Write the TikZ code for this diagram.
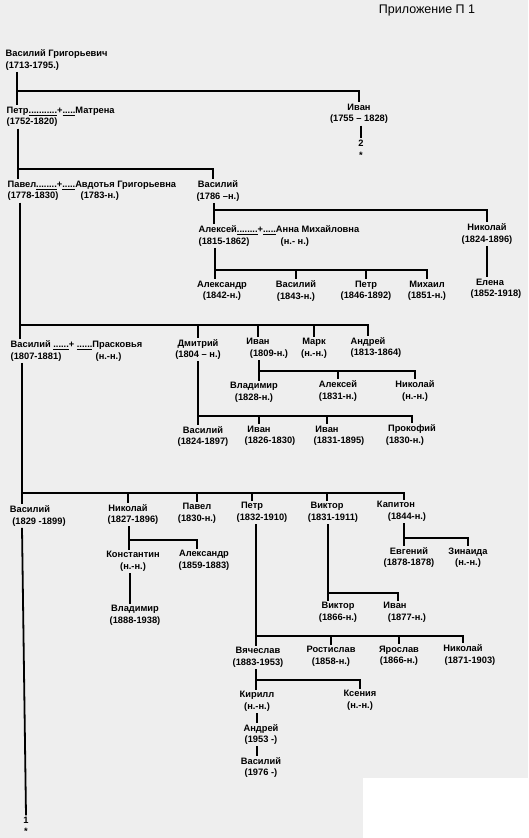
\documentclass[tikz,border=0pt]{standalone}
\usepackage{fontspec}
\setmainfont{Liberation Sans}
\usepackage{tikz}
\usetikzlibrary{calc}
\definecolor{scanbg}{RGB}{238,238,238}
\newcommand{\DR}[2]{\hspace*{#1}#2}
\newcommand{\DL}[2]{#2\hspace*{#1}}

\begin{document}
\begin{tikzpicture}[x=1pt,y=-1pt,
  pers/.style={font=\bfseries\fontsize{9.3}{11.5}\selectfont,align=center,inner sep=1.5pt},
  pair/.style={pers,align=left,anchor=west},
  tie/.style={line width=1.4pt},
  trunk/.style={line width=1.8pt}]

\fill[scanbg] (0,0) rectangle (528,838);
\fill[white] (363,778) rectangle (528,838);
\useasboundingbox (0,0) rectangle (528,838);

\node[font=\fontsize{12.5}{14}\selectfont] (title) at (427,10) {Приложение П 1};

%─── Generation 1 ───────────────────────────────────────────────────────────
\node[pair] (vg) at (4,60) {Василий Григорьевич\\(1713-1795.)};
\node[pair] (petr) at (5,117)
  {Петр\underline{...........}+\underline{.....}Матрена\\(1752-1820)};
\node[pers] (ivanA) at (359,114) {Иван\\(1755 – 1828)};
\node[pers] (n2) at (361,149) {2\\*};
\coordinate (jA) at (17,91);
\draw[trunk] (vg.south -| jA) -- (petr.north -| jA);
\draw[tie] (jA) -| (ivanA.north);
\draw[tie] (ivanA.south -| n2) -- (n2.north);

%─── Generation 2 ───────────────────────────────────────────────────────────
\node[pair] (pavel) at (6,191)
  {Павел\underline{........}+\underline{.....}Авдотья Григорьевна\\
   \makebox[73pt][l]{(1778-1830)}(1783-н.)};
\node[pers] (vasB) at (218,191) {Василий\\(1786 –н.)};
\coordinate (jB) at (18,169);
\draw[trunk] (petr.south -| jB) -- (pavel.north -| jB);
\draw[tie] (jB) -| (vasB.north -| 213,0);
\coordinate (jC) at (214,210);
\draw[tie] (vasB.south -| jC) -- (jC);

%─── Descendants of Vasily (1786) ───────────────────────────────────────────
\node[pair] (aleksey) at (197,236)
  {Алексей\underline{........}+\underline{.....}Анна Михайловна\\
   \makebox[82pt][l]{(1815-1862)}(н.- н.)};
\node[pers] (nikA) at (487,234) {Николай\\(1824-1896)};
\node[pers] (elena) at (490,289) {Елена\\\DR{12pt}{(1852-1918)}};
\draw[tie] (jC) -- (aleksey.north -| jC);
\draw[tie] (jC) -| (nikA.north);
\draw[tie] (nikA.south) -- (nikA.south |- elena.north);

\node[pers] (aleksA) at (222,291) {Александр\\(1842-н.)};
\node[pers] (vasC) at (296,291) {Василий\\(1843-н.)};
\node[pers] (petrB) at (366,291) {Петр\\(1846-1892)};
\node[pers] (mikh) at (427,291) {Михаил\\(1851-н.)};
\coordinate (jD) at (215,270);
\draw[tie] (aleksey.south -| jD) -- (aleksA.north -| jD);
\draw[tie] (jD) -| (mikh.north);
\foreach \c in {vasC,petrB}
  \draw[tie] (jD -| \c) -- (\c.north);

%─── Generation 3 ───────────────────────────────────────────────────────────
\node[pair] (vasP) at (9,351)
  {Василий \underline{......}+ \underline{......}Прасковья\\
   \makebox[85pt][l]{(1807-1881)}(н.-н.)};
\node[pers] (dmit) at (198,349.5) {Дмитрий\\(1804 – н.)};
\node[pers] (ivanB) at (258,348.5) {Иван\\\DR{22pt}{(1809-н.)}};
\node[pers] (mark) at (314,348.5) {Марк\\(н.-н.)};
\node[pers] (andrA) at (368,347.5) {Андрей\\\DR{16pt}{(1813-1864)}};
\coordinate (jE) at (20,325);
\draw[trunk] (pavel.south -| jE) -- (vasP.north -| jE);
\draw[tie] (jE) -| (andrA.north);
\foreach \c in {dmit,ivanB,mark}
  \draw[tie] (jE -| \c) -- (\c.north);

%─── Descendants of Ivan (1809) ─────────────────────────────────────────────
\node[pers] (vladA) at (254,392.5) {Владимир\\(1828-н.)};
\node[pers] (aleksB) at (338,391) {Алексей\\(1831-н.)};
\node[pers] (nikB) at (415,391) {Николай\\(н.-н.)};
\coordinate (jF) at (259,371);
\draw[tie] (ivanB.south -| jF) -- (vladA.north -| jF);
\draw[tie] (jF) -| (nikB.north);
\draw[tie] (jF -| aleksB) -- (aleksB.north);

%─── Descendants of Dmitry (1804) ───────────────────────────────────────────
\node[pers] (vasD) at (203,436.5) {Василий\\(1824-1897)};
\node[pers] (ivanC) at (259,436) {Иван\\\DR{22pt}{(1826-1830)}};
\node[pers] (ivanD) at (327,436) {Иван\\\DR{24pt}{(1831-1895)}};
\node[pers] (prok) at (412,435) {Прокофий\\\DL{14pt}{(1830-н.)}};
\coordinate (jG) at (198,416);
\draw[tie] (dmit.south -| jG) -- (vasD.north -| jG);
\draw[tie] (jG) -| (prok.north);
\foreach \c in {ivanC,ivanD}
  \draw[tie] (jG -| \c) -- (\c.north);

%─── Generation 4 ───────────────────────────────────────────────────────────
\node[pers] (vasE) at (30,516) {Василий\\\DR{18pt}{(1829 -1899)}};
\node[pers] (nikC) at (128,514.5) {Николай\\\DR{10pt}{(1827-1896)}};
\node[pers] (pavelB) at (197,513.5) {Павел\\(1830-н.)};
\node[pers] (petrC) at (252,512.5) {Петр\\\DR{20pt}{(1832-1910)}};
\node[pers] (vikA) at (327,512.5) {Виктор\\\DR{12pt}{(1831-1911)}};
\node[pers] (kap) at (396,511.5) {Капитон\\\DR{22pt}{(1844-н.)}};
\coordinate (jH) at (22,493);
\draw[trunk] (vasP.south -| jH) -- (vasE.north -| jH);
\draw[tie] (jH) -| (kap.north -| 404,0);
\foreach \c in {nikC,pavelB,petrC,vikA}
  \draw[tie] (jH -| \c) -- (\c.north);

%─── Descendants of Nikolay (1827) ──────────────────────────────────────────
\node[pers] (konst) at (133,561.5) {Константин\\(н.-н.)};
\node[pers] (aleksC) at (204,560.5) {Александр\\(1859-1883)};
\node[pers] (vladB) at (135,615.5) {Владимир\\(1888-1938)};
\coordinate (jI) at (129,540);
\draw[tie] (nikC.south -| jI) -- (konst.north -| jI);
\draw[tie] (jI) -| (aleksC.north -| 197,0);
\draw[tie] (konst.south -| 130,0) -- (vladB.north -| 130,0);

%─── Descendants of Kapiton (1844) ──────────────────────────────────────────
\node[pers] (evg) at (409,557.5) {Евгений\\(1878-1878)};
\node[pers] (zin) at (468,557.5) {Зинаида\\(н.-н.)};
\coordinate (jJ) at (404,538);
\draw[trunk] (kap.south -| jJ) -- (evg.north -| jJ);
\draw[tie] (jJ) -| (zin.north);

%─── Descendants of Viktor (1831) ───────────────────────────────────────────
\node[pers] (vikB) at (338,612.5) {Виктор\\(1866-н.)};
\node[pers] (ivanE) at (395,612.5) {Иван\\\DR{24pt}{(1877-н.)}};
\coordinate (jK) at (328,593);
\draw[trunk] (vikA.south -| jK) -- (vikB.north -| jK);
\draw[tie] (jK) -| (ivanE.north -| 398,0);

%─── Descendants of Petr (1832) ─────────────────────────────────────────────
\node[pers] (vyach) at (258,657.5) {Вячеслав\\(1883-1953)};
\node[pers] (rost) at (331,656.5) {Ростислав\\(1858-н.)};
\node[pers] (yar) at (399,656) {Ярослав\\(1866-н.)};
\node[pers] (nikD) at (463,655) {Николай\\\DR{14pt}{(1871-1903)}};
\coordinate (jL) at (256,636);
\draw[tie] (petrC.south -| jL) -- (vyach.north -| jL);
\draw[tie] (jL) -| (nikD.north);
\foreach \c in {rost,yar}
  \draw[tie] (jL -| \c) -- (\c.north);

%─── Descendants of Vyacheslav (1883) ───────────────────────────────────────
\node[pers] (kir) at (257,701.5) {Кирилл\\(н.-н.)};
\node[pers] (ksen) at (360,700.5) {Ксения\\(н.-н.)};
\node[pers] (andrB) at (261,734.5) {Андрей\\(1953 -)};
\node[pers] (vasF) at (261,767.5) {Василий\\(1976 -)};
\coordinate (jM) at (256,680);
\draw[tie] (vyach.south -| jM) -- (kir.north -| jM);
\draw[tie] (jM) -| (ksen.north);
\draw[tie] (kir.south) -- (kir.south |- andrB.north);
\draw[tie] (andrB.south -| kir) -- (vasF.north -| kir);

%─── Trunk end ──────────────────────────────────────────────────────────────
\node[pers] (n1) at (26,826) {1\\*};
\draw[trunk] (vasE.south -| jH) -- (n1.north);

\end{tikzpicture}
\end{document}
